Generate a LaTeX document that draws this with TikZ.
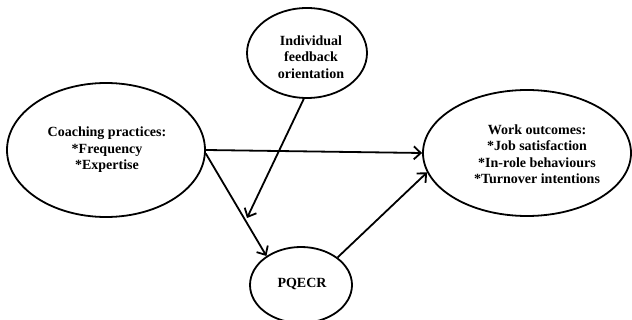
\documentclass[tikz,border=0pt]{standalone}
\usepackage{fontspec}
\setmainfont{Liberation Serif}
\usetikzlibrary{arrows.meta,shapes.geometric}
\begin{document}
\begin{tikzpicture}[x=1pt,y=-1pt,
  oval/.style={draw,line width=1.8pt,ellipse,inner sep=0pt},
  lbl/.style={align=center,font=\fontsize{14}{16.5}\selectfont\bfseries},
  link/.style={line width=1.8pt,-{Straight Barb[length=7pt,width=13pt,line width=1.8pt]}}]
\useasboundingbox (0,0) rectangle (632,320);
\node[oval,minimum width=198pt,minimum height=134pt] (coach) at (106,150) {};
\node[oval,minimum width=120pt,minimum height=90pt] (ifo) at (307,53) {};
\node[oval,minimum width=208pt,minimum height=126pt] (work) at (527,153) {};
\node[oval,minimum width=102pt,minimum height=76pt] (pq) at (301,285) {};
\node[lbl] (coachtxt) at (107,150) {Coaching practices:\\*Frequency\\*Expertise};
\node[lbl] (ifotxt) at (311,57) {Individual\\feedback\\orientation};
\node[lbl] (worktxt) at (537,154) {Work outcomes:\\*Job satisfaction\\*In-role behaviours\\*Turnover intentions};
\node[lbl] (pqtxt) at (302,284) {PQECR};
\coordinate (mid) at (247,218);
\draw[link] (coach.east) -- (work.west);
\draw[link] (coach.-2) -- (pq.140);
\draw[link] (ifo.266) -- (mid);
\draw[link] (pq.37) -- (work.191);
\end{tikzpicture}
\end{document}
